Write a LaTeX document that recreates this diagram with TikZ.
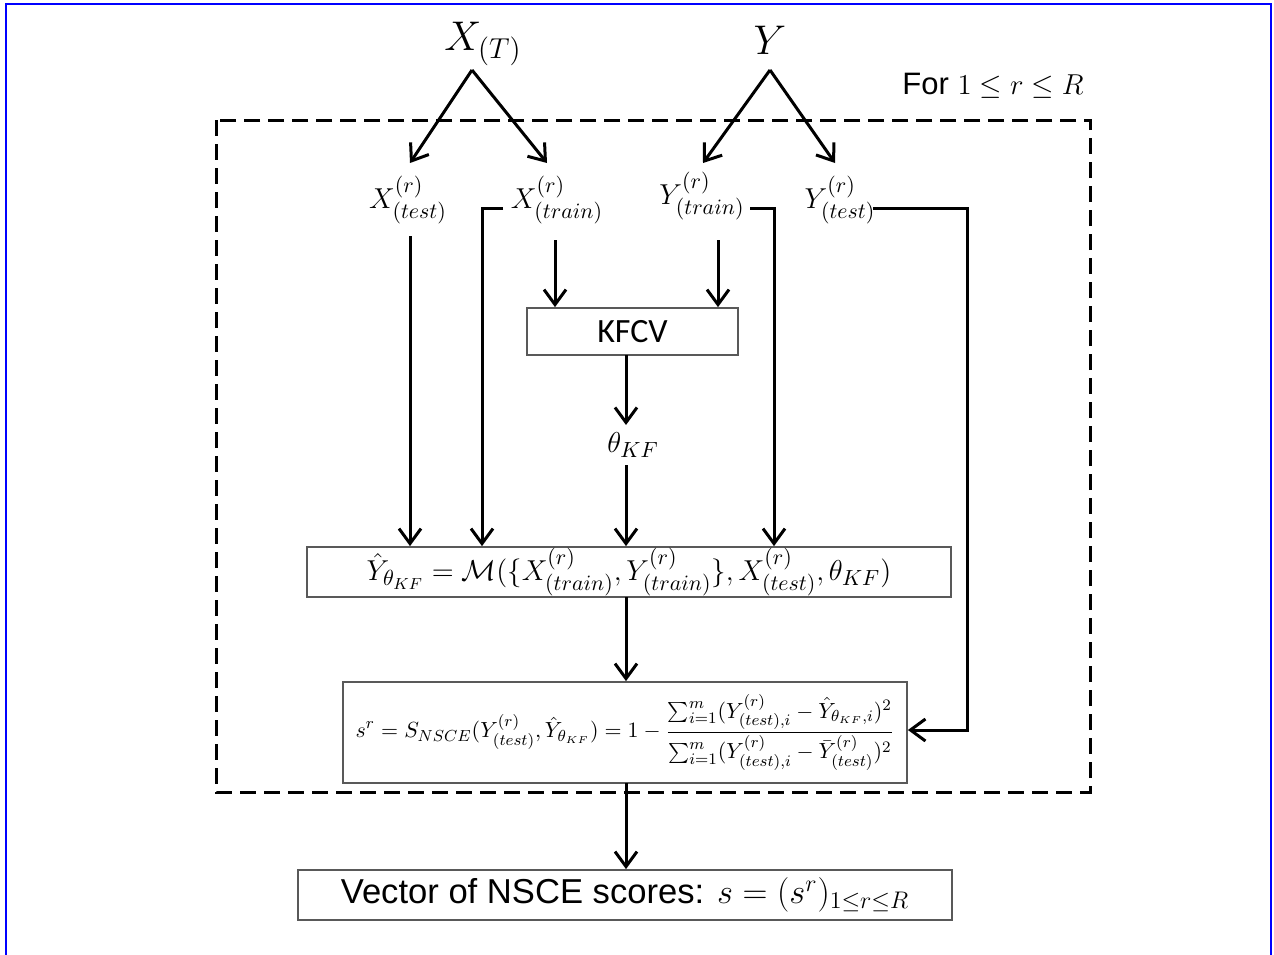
\documentclass[tikz,border=0pt]{standalone}
\usepackage{fontspec}
\newfontfamily\sansA{Liberation Sans}
\newfontfamily\sansB{Carlito}
\usetikzlibrary{arrows.meta,calc}
\begin{document}
\begin{tikzpicture}[x=0.5pt,y=-0.5pt,
  arr/.style={line width=1.5pt,-{Straight Barb[length=7.5pt,width=11pt,line width=1.5pt]}},
  box/.style={draw=black!65,line width=0.9pt,inner sep=0pt},
  big/.style={font=\fontsize{19.5}{23}\selectfont,inner sep=0pt},
  mid/.style={font=\fontsize{15.5}{19}\selectfont,inner sep=0pt}]
\useasboundingbox (0,0) rectangle (1274,954);
\draw[blue,line width=1pt] (6,960) -- (6,4) -- (1271,4) -- (1271,960);

% loop frame
\draw[line width=1.5pt,dash pattern=on 8pt off 4pt] (216,120) rectangle (1090,792);
\node[anchor=east,font=\fontsize{15.5}{19}\selectfont,inner sep=0pt] (for) at (1084,86) {\sansA For $1\le r\le R$};

% top sources
\node[big] (XT) at (483,44) {$X_{(T)}$};
\node[big] (Y) at (770,40) {$Y$};
\coordinate (xa) at (472,70);
\coordinate (ya) at (770,70);

% split labels
\node[mid] (xtest) at (408,200) {$X^{(r)}_{(test)}$};
\node[mid] (xtrain) at (557,200) {$X^{(r)}_{(train)}$};
\node[mid] (ytrain) at (702,196) {$Y^{(r)}_{(train)}$};
\node[mid] (ytest) at (840,200) {$Y^{(r)}_{(test)}$};

\coordinate (t1) at (410,163);
\coordinate (t2) at (547,163);
\coordinate (t3) at (703,163);
\coordinate (t4) at (835,163);
\draw[arr] (xa) -- (t1);
\draw[arr] (xa) -- (t2);
\draw[arr] (ya) -- (t3);
\draw[arr] (ya) -- (t4);

% boxes
\node[box,minimum width=105.5pt,minimum height=23.5pt,font=\fontsize{17}{20}\selectfont] (kfcv) at (632.5,331.5) {\sansB KFCV};
\node[mid] (theta) at (633,445) {$\theta_{KF}$};
\node[box,minimum width=322pt,minimum height=25pt,font=\fontsize{15.5}{19}\selectfont] (model) at (629,572)
  {$\hat{Y}_{\theta_{KF}} = \mathcal{M}(\{X^{(r)}_{(train)},Y^{(r)}_{(train)}\},X^{(r)}_{(test)},\theta_{KF})$};
\node[box,minimum width=282pt,minimum height=50.5pt,font=\fontsize{11}{13}\selectfont] (nsce) at (625,732.5)
  {$\displaystyle s^{r} = S_{NSCE}(Y^{(r)}_{(test)},\hat{Y}_{\theta_{KF}}) = 1-\frac{\sum_{i=1}^{m}(Y^{(r)}_{(test),i}-\hat{Y}_{\theta_{KF},i})^{2}}{\sum_{i=1}^{m}(Y^{(r)}_{(test),i}-\bar{Y}^{(r)}_{(test)})^{2}}$};
\node[box,minimum width=327pt,minimum height=25pt,font=\fontsize{17.3}{21}\selectfont] (vec) at (625,895)
  {\sansA Vector of NSCE scores: $s=(s^{r})_{1\le r\le R}$};

% flows into KFCV
\coordinate (k1) at (555,240);
\coordinate (k2) at (718,240);
\draw[arr] (k1) -- (k1 |- kfcv.north);
\draw[arr] (k2) -- (k2 |- kfcv.north);
\coordinate (kc) at (626,355);
\draw[arr] (kc) -- (626,425);
\coordinate (th) at (626,465);
\draw[arr] (th) -- (th |- model.north);

% flows into model
\coordinate (a1) at (410,236);
\draw[arr] (a1) -- (a1 |- model.north);
\coordinate (b0) at (503,208);
\coordinate (b1) at (482,208);
\draw[arr] (b0) -- (b1) -- (b1 |- model.north);
\coordinate (c0) at (750,208);
\coordinate (c1) at (774,208);
\draw[arr] (c0) -- (c1) -- (c1 |- model.north);

% into NSCE
\coordinate (d0) at (873,208);
\coordinate (d1) at (967,208);
\coordinate (d2) at (967,730);
\draw[arr] (d0) -- (d1) -- (d2) -- (d2 -| nsce.east);

\coordinate (m0) at (626,597);
\draw[arr] (m0) -- (m0 |- nsce.north);
\coordinate (n0) at (626,783);
\draw[arr] (n0) -- (n0 |- vec.north);
\end{tikzpicture}
\end{document}
